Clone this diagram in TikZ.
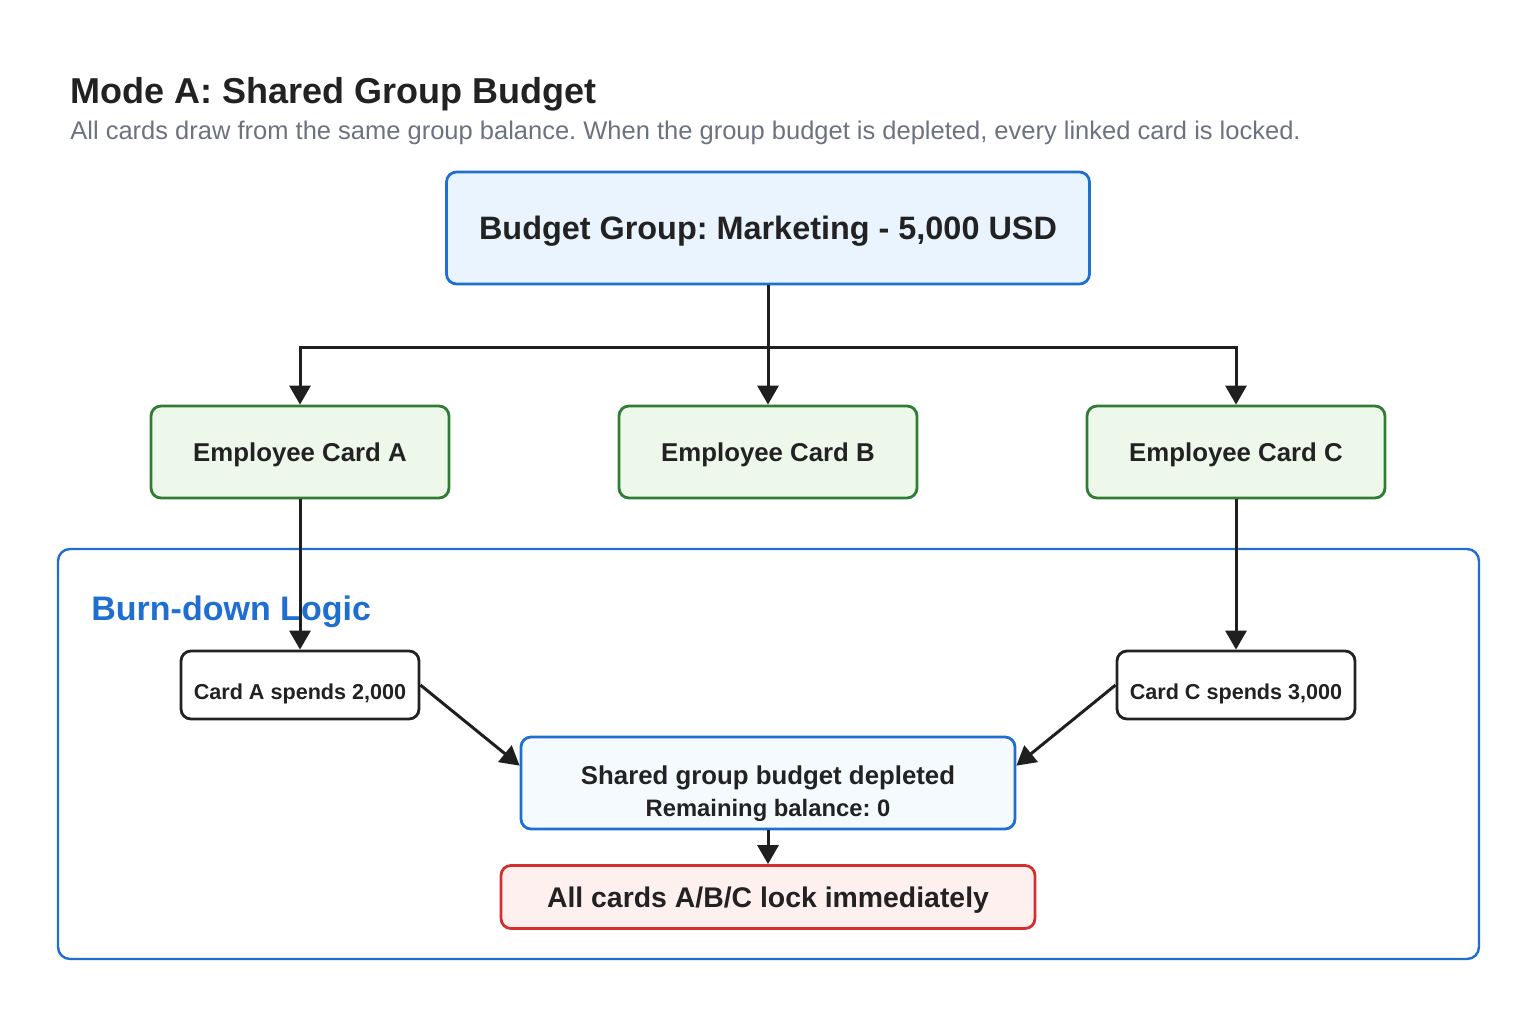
\documentclass[tikz,border=0pt]{standalone}
\usepackage{fontspec}
\setmainfont{Liberation Sans}
\usetikzlibrary{arrows.meta}
\frenchspacing

\definecolor{ink}{HTML}{222222}
\definecolor{subgray}{HTML}{6B7280}
\definecolor{grpblue}{HTML}{1F6FD1}
\definecolor{grpfill}{HTML}{EAF4FF}
\definecolor{cardgreen}{HTML}{2E7D32}
\definecolor{cardfill}{HTML}{EDF7EA}
\definecolor{lockred}{HTML}{D32F2F}
\definecolor{lockfill}{HTML}{FFF0F0}
\definecolor{sharedfill}{HTML}{F5FAFF}

\tikzset{
    box/.style={draw, line width=1.4pt, rounded corners=5pt, text=ink, text depth=0pt, font=\bfseries},
    group/.style={box, draw=grpblue, fill=grpfill, minimum width=321.5pt, minimum height=56pt, font=\bfseries\fontsize{16.2}{19}\selectfont},
    card/.style={box, draw=cardgreen, fill=cardfill, minimum width=149pt, minimum height=46pt, font=\bfseries\fontsize{12.9}{15}\selectfont},
    spend/.style={box, draw=ink, fill=white, minimum width=119pt, minimum height=34pt, text height=14pt, font=\bfseries\fontsize{10.8}{12}\selectfont},
    arr/.style={-{Triangle[length=9.5pt, width=10.5pt]}, line width=1.5pt, draw=ink!90!black},
}

\begin{document}
\begin{tikzpicture}[x=0.5pt, y=-0.5pt]
    \useasboundingbox (0,0) rectangle (1536,1024);

    % heading
    \node[anchor=base west, inner sep=0pt, text=ink, font=\bfseries\fontsize{18}{21}\selectfont] (title) at (70,103) {Mode A: Shared Group Budget};
    \node[anchor=base west, inner sep=0pt, text=subgray, font=\fontsize{12.75}{15}\selectfont] (subtitle) at (70,139) {All cards draw from the same group balance. When the group budget is depleted, every linked card is locked.};

    % burn-down frame
    \draw[grpblue, line width=1.2pt, rounded corners=6pt] (58,549) rectangle (1479,959);
    \node[anchor=base west, inner sep=0pt, text=grpblue, font=\bfseries\fontsize{17}{20}\selectfont] (burn) at (91,620) {Burn-down Logic};

    \node[group] (budget) at (768,228) {Budget Group: Marketing - 5,000 USD};

    \node[card] (cardA) at (300,452) {Employee Card A};
    \node[card] (cardB) at (768,452) {Employee Card B};
    \node[card] (cardC) at (1236,452) {Employee Card C};

    \node[spend] (spendA) at (300,685) {Card A spends 2,000};
    \node[spend] (spendC) at (1236,685) {Card C spends 3,000};

    \node[box, draw=grpblue, fill=sharedfill, minimum width=247pt, minimum height=46pt, text depth=-6pt, align=center, font=\bfseries\fontsize{12.9}{16.3}\selectfont] (shared) at (768,783)
        {\rule{0pt}{17.5pt}Shared group budget depleted\\{\fontsize{11.9}{13}\selectfont Remaining balance: 0}};

    \node[box, draw=lockred, fill=lockfill, minimum width=267pt, minimum height=31.5pt, font=\bfseries\fontsize{14.2}{17}\selectfont] (lock) at (768,897) {All cards A/B/C lock immediately};

    % connectors
    \draw[arr] (budget.south) -- (cardB.north);
    \draw[arr] (budget.south) -- ++(0,62) -| (cardA.north);
    \draw[arr] (budget.south) -- ++(0,62) -| (cardC.north);

    \draw[arr] (cardA.south) -- (spendA.north);
    \draw[arr] (cardC.south) -- (spendC.north);
    \draw[arr] (spendA.east) -- (shared.176);
    \draw[arr] (spendC.west) -- (shared.4);
    \draw[arr] (shared.south) -- (lock.north);
\end{tikzpicture}
\end{document}
